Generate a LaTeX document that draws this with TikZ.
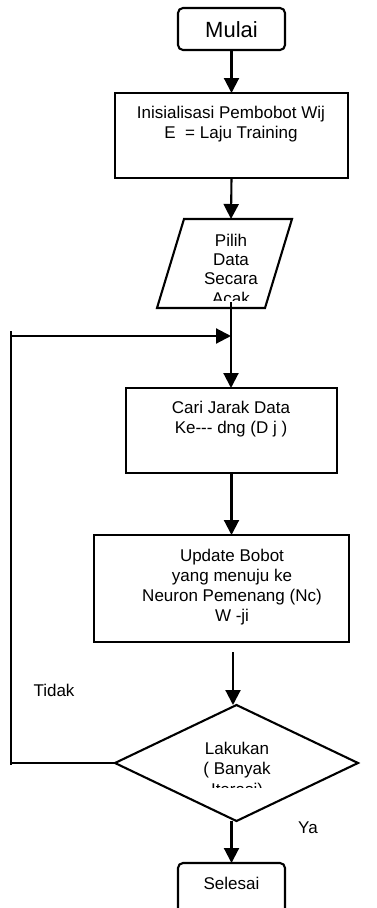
\documentclass[tikz,border=0pt]{standalone}
\usepackage{fontspec}
\setmainfont{Liberation Sans}
\usetikzlibrary{arrows.meta}
\begin{document}
\begin{tikzpicture}[x=1pt,y=-1pt,
  every node/.style={inner sep=0pt, outer sep=0pt},
  txt/.style={font=\fontsize{17}{20}\selectfont, align=center, anchor=north},
  term/.style={draw, line width=2.1pt, rounded corners=5pt},
  proc/.style={draw, line width=2.1pt},
  edge/.style={line width=2.1pt},
  flow/.style={edge, -{Triangle[width=15pt,length=15pt]}}]
\useasboundingbox (0,0) rectangle (376,908);

% terminals
\node[term, minimum width=107pt, minimum height=42pt] (start) at (231.5,29) {};
\node[font=\fontsize{22}{24}\selectfont] (startlbl) at (231.5,30) {Mulai};

% process boxes
\node[proc, minimum width=233pt, minimum height=85pt] (init) at (231.5,135.5) {};
\node[txt] (initlbl) at (231,106) {Inisialisasi Pembobot Wij\\E\ \ = Laju Training};

\node[proc, minimum width=211pt, minimum height=85pt] (dist) at (231.5,430.5) {};
\node[txt] (distlbl) at (231,401) {Cari Jarak Data\\Ke-{}-{}- dng (D j )};

\node[proc, minimum width=255pt, minimum height=107pt] (upd) at (221.5,588.5) {};
\node[txt] (updlbl) at (232,549) {Update Bobot\\yang menuju ke\\Neuron Pemenang (Nc)\\W -ji};

% input parallelogram
\coordinate (pTL) at (184,219);
\coordinate (pTR) at (292,219);
\coordinate (pBR) at (265,308);
\coordinate (pBL) at (157,308);
\draw[edge, line join=miter] (pTL) -- (pTR) -- (pBR) -- (pBL) -- cycle;
\coordinate (pin) at (231,219);
\begin{scope}
  \clip (150,225) rectangle (300,300.5);
  \node[font=\fontsize{17}{19.3}\selectfont, align=center, anchor=north] (datalbl) at (231,234) {Pilih\\Data\\Secara\\Acak};
\end{scope}
\coordinate (pout) at (231,302);

% decision diamond
\coordinate (dT) at (236.5,705);
\coordinate (dR) at (358,763);
\coordinate (dB) at (236.5,821);
\coordinate (dL) at (115,763);
\draw[edge, line join=miter] (dT) -- (dR) -- (dB) -- (dL) -- cycle;
\begin{scope}
  \clip (150,730) rectangle (320,787.5);
  \node[font=\fontsize{17}{20.5}\selectfont, align=center, anchor=north] (declbl) at (237,742) {Lakukan\\( Banyak\\Iterasi)};
\end{scope}

\node[term, minimum width=107pt, minimum height=60pt] (stop) at (231.5,893) {};
\node[font=\fontsize{17}{19}\selectfont] (stoplbl) at (231.5,883) {Selesai};

% main flow
\draw[flow] (start.south) -- (start.south |- init.north);
\draw[flow] (init.south) -- (pin);
\draw[flow] (pout) -- (pout |- dist.north);
\draw[flow] (dist.south) -- (dist.south |- upd.north);
\coordinate (g) at (233,652);
\draw[flow] (g) -- (g |- dT);
\draw[flow] (stop.north |- dB) -- (stop.north);

% loop back
\coordinate (lbTop) at (11,331);
\coordinate (lbJoin) at (11,336);
\coordinate (lbBot) at (11,765);
\coordinate (merge) at (231,336);
\draw[edge] (lbTop) -- (lbBot);
\draw[flow] (lbJoin) -- (merge);
\draw[edge] (lbBot |- dL) -- (dL);

% branch labels
\node[font=\fontsize{17}{19}\selectfont] (no) at (54,690) {Tidak};
\node[font=\fontsize{17}{19}\selectfont] (yes) at (308,828) {Ya};
\end{tikzpicture}
\end{document}
